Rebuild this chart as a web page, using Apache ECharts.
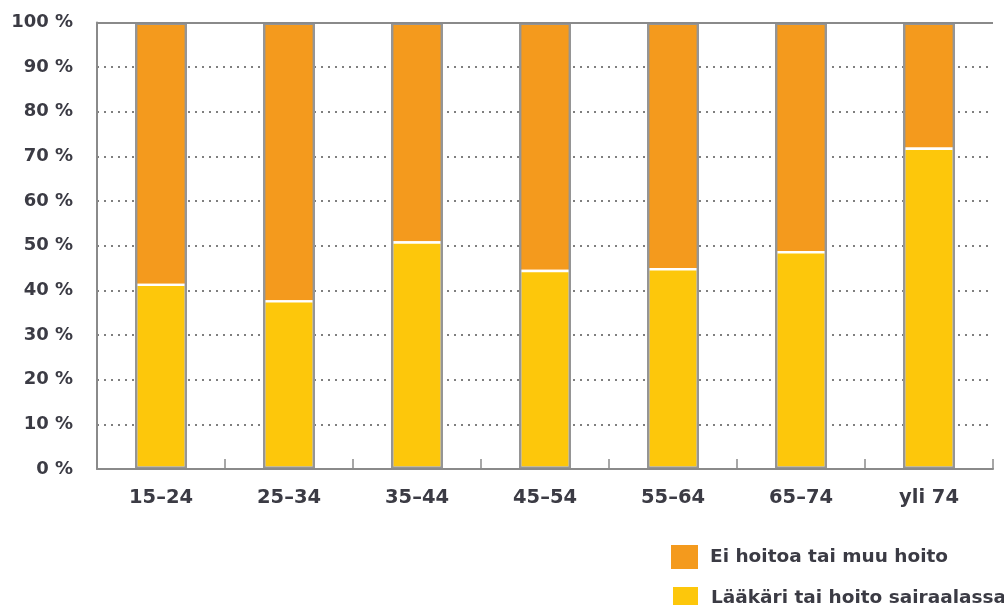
<!DOCTYPE html>
<html><head><meta charset="utf-8">
<script src="https://cdn.jsdelivr.net/npm/echarts@6/dist/echarts.min.js"></script>
<style>html,body{margin:0;padding:0;background:#fff}#c{width:1004px;height:605px}</style>
</head><body><div id="c"></div>
<script>
const categories = ['15–24','25–34','35–44','45–54','55–64','65–74','yli 74'];
const hospital = [41.5, 37.8, 51, 44.6, 45, 48.8, 72];
const noCare = [58.5, 62.2, 49, 55.4, 55, 51.2, 28];
const totals = [100, 100, 100, 100, 100, 100, 100];
const yTicks = [0,10,20,30,40,50,60,70,80,90,100];
const nameHospital = 'Lääkäri tai hoito sairaalassa';
const nameNoCare = 'Ei hoitoa tai muu hoito';

const font = '"DejaVu Sans", sans-serif';
const textColor = '#3b3b44';
const legendText = {fontFamily:font, fontSize:18.5, fontWeight:'bold', color:textColor, padding:[0,0,0,7]};
const chart = echarts.init(document.getElementById('c'), null, {renderer:'canvas'});
chart.setOption({
  animation:false,
  grid:{left:97, right:11, top:22.5, bottom:136},
  legend:[
    {data:[nameNoCare], left:666, top:540, itemWidth:27, itemHeight:24, icon:'rect', textStyle:legendText},
    {data:[nameHospital], left:666, top:580, itemWidth:27, itemHeight:24, icon:'rect', textStyle:legendText}
  ],
  xAxis:{
    type:'category', data:categories,
    axisLine:{lineStyle:{color:'#8a8a8a', width:2}},
    axisTick:{show:true, inside:true, length:10, lineStyle:{color:'#8a8a8a', width:1.5}},
    axisLabel:{margin:19, fontFamily:font, fontSize:19.5, fontWeight:'bold', color:textColor},
    z:5
  },
  yAxis:{
    type:'value', min:0, max:100, interval:10,
    axisLine:{show:true, lineStyle:{color:'#8a8a8a', width:2}},
    axisTick:{show:false},
    axisLabel:{margin:24, fontFamily:font, fontSize:18, fontWeight:'bold', color:textColor,
      formatter:v=> yTicks.includes(v) ? v + ' %' : ''},
    splitLine:{show:true, lineStyle:{color:'#555', width:1.5, type:[2,5]}}
  },
  series:[
    {name:nameHospital, type:'bar', stack:'s', data:hospital, barWidth:52,
     itemStyle:{color:'#FDC70B', borderColor:'#fff', borderWidth:2.4}, z:2},
    {name:nameNoCare, type:'bar', stack:'s', data:noCare, barWidth:52,
     itemStyle:{color:'#F49A1D'}, z:1},
    {name:'outline', type:'bar', data:totals, barWidth:52, barGap:'-100%',
     itemStyle:{color:'rgba(0,0,0,0)', borderColor:'#959595', borderWidth:2.4},
     silent:true, z:3,
     markLine:{silent:true, symbol:'none', label:{show:false},
       lineStyle:{color:'#8a8a8a', width:2, type:'solid'}, data:[{yAxis:100}]}}
  ]
});
</script></body></html>
